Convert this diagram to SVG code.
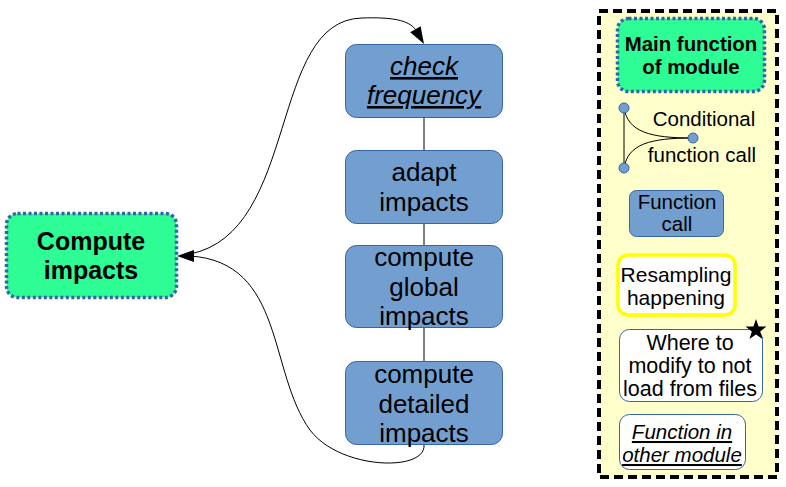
<svg xmlns="http://www.w3.org/2000/svg" width="786" height="487" viewBox="0 0 786 487">
<defs>
<style>
.main{fill:#2efc94;stroke:#3465a4;stroke-width:3.5;stroke-dasharray:3,2.5}
.fn{fill:#729fcf;stroke:#3465a4;stroke-width:1}
.t{font-family:"Liberation Sans",Arial,sans-serif;text-anchor:middle;fill:#000}
.big{font-size:26px}
.leg{font-size:21px}
.conn{fill:none;stroke:#000;stroke-width:1}
.head{fill:#000}
</style>
</defs>
<g id="connectors">
<line class="conn" x1="424" y1="118" x2="424" y2="150"/>
<line class="conn" x1="424" y1="224" x2="424" y2="245"/>
<line class="conn" x1="424" y1="328" x2="424" y2="361"/>
<path class="conn" d="M190,254 C300,232 268,20 362,18 C392,17 408,20 415.4,29.3"/>
<polygon class="head" points="424,44 420.6,26.3 410.2,32.3"/>
<path class="conn" d="M424,445 C426,472 340,470 310,430 C268,372 285,262 190,256"/>
<polygon class="head" points="177,256 194,250 194,262"/>
</g>
<g id="compute-impacts">
<rect class="main" x="6.5" y="213.5" width="170" height="84" rx="11"/>
<text class="t" x="91" y="250" font-size="25" font-weight="bold">Compute</text>
<text class="t" x="91" y="279" font-size="25" font-weight="bold">impacts</text>
</g>
<g id="check-frequency">
<rect class="fn" x="345.5" y="44.5" width="157" height="73" rx="11"/>
<text class="t big" x="424" y="75" font-style="italic" text-decoration="underline">check</text>
<text class="t big" x="424" y="104" font-style="italic" text-decoration="underline">frequency</text>
</g>
<g id="adapt-impacts">
<rect class="fn" x="345.5" y="150.5" width="157" height="73" rx="11"/>
<text class="t big" x="424" y="181">adapt</text>
<text class="t big" x="424" y="211">impacts</text>
</g>
<g id="compute-global-impacts">
<rect class="fn" x="345.5" y="245.5" width="157" height="82" rx="11"/>
<text class="t big" x="424" y="266">compute</text>
<text class="t big" x="424" y="296">global</text>
<text class="t big" x="424" y="325">impacts</text>
</g>
<g id="compute-detailed-impacts">
<rect class="fn" x="345.5" y="361.5" width="157" height="83" rx="11"/>
<text class="t big" x="424" y="383">compute</text>
<text class="t big" x="424" y="413">detailed</text>
<text class="t big" x="424" y="442">impacts</text>
</g>
<g id="legend">
<rect x="599" y="11" width="178" height="466" fill="#ffffcc" stroke="#000" stroke-width="4" stroke-dasharray="9,5"/>
<g id="legend-main">
<rect class="main" x="617.5" y="18.5" width="147" height="73" rx="11"/>
<text class="t" x="691" y="51" font-size="20.4" font-weight="bold">Main function</text>
<text class="t" x="691" y="74" font-size="20.4" font-weight="bold">of module</text>
</g>
<g id="legend-conditional">
<line x1="624" y1="108" x2="624" y2="168" stroke="#000" stroke-width="1"/>
<path class="conn" d="M624,108 C628,132 650,138 693,138"/>
<path class="conn" d="M624,168 C628,144 650,138 693,138"/>
<circle class="fn" cx="624" cy="108" r="5"/>
<circle class="fn" cx="693" cy="138" r="5"/>
<circle class="fn" cx="624" cy="168" r="5"/>
<text class="t" x="704" y="126" font-size="20.5">Conditional</text>
<text class="t" x="702" y="162" font-size="20.5">function call</text>
</g>
<g id="legend-function-call">
<rect class="fn" x="629.5" y="190.5" width="94" height="46" rx="7"/>
<text class="t" x="677" y="209" font-size="20.5">Function</text>
<text class="t" x="677" y="231" font-size="20.5">call</text>
</g>
<g id="legend-resampling">
<rect x="618" y="255" width="117" height="60" rx="10" fill="#fff" stroke="#ffff00" stroke-width="3.5"/>
<text class="t leg" x="676" y="282">Resampling</text>
<text class="t leg" x="676" y="305">happening</text>
</g>
<g id="legend-modify">
<rect x="619.5" y="329.5" width="143" height="72" rx="10" fill="#fff" stroke="#3465a4" stroke-width="1"/>
<polygon points="756,319 758.6,326.4 766.5,326.6 760.2,331.4 762.5,339 756,334.5 749.5,339 751.8,331.4 745.5,326.6 753.4,326.4" fill="#000"/>
<text class="t" x="690" y="350" font-size="21.5">Where to</text>
<text class="t" x="690" y="373" font-size="21.5">modify to not</text>
<text class="t" x="690" y="396" font-size="21.5">load from files</text>
</g>
<g id="legend-other-module">
<rect x="619.5" y="414.5" width="126" height="55" rx="10" fill="#fff" stroke="#3465a4" stroke-width="1"/>
<text class="t" x="682" y="439" font-size="20.5" font-style="italic" text-decoration="underline">Function in</text>
<text class="t" x="682" y="462" font-size="20.5" font-style="italic" text-decoration="underline">other module</text>
</g>
</g>
</svg>
